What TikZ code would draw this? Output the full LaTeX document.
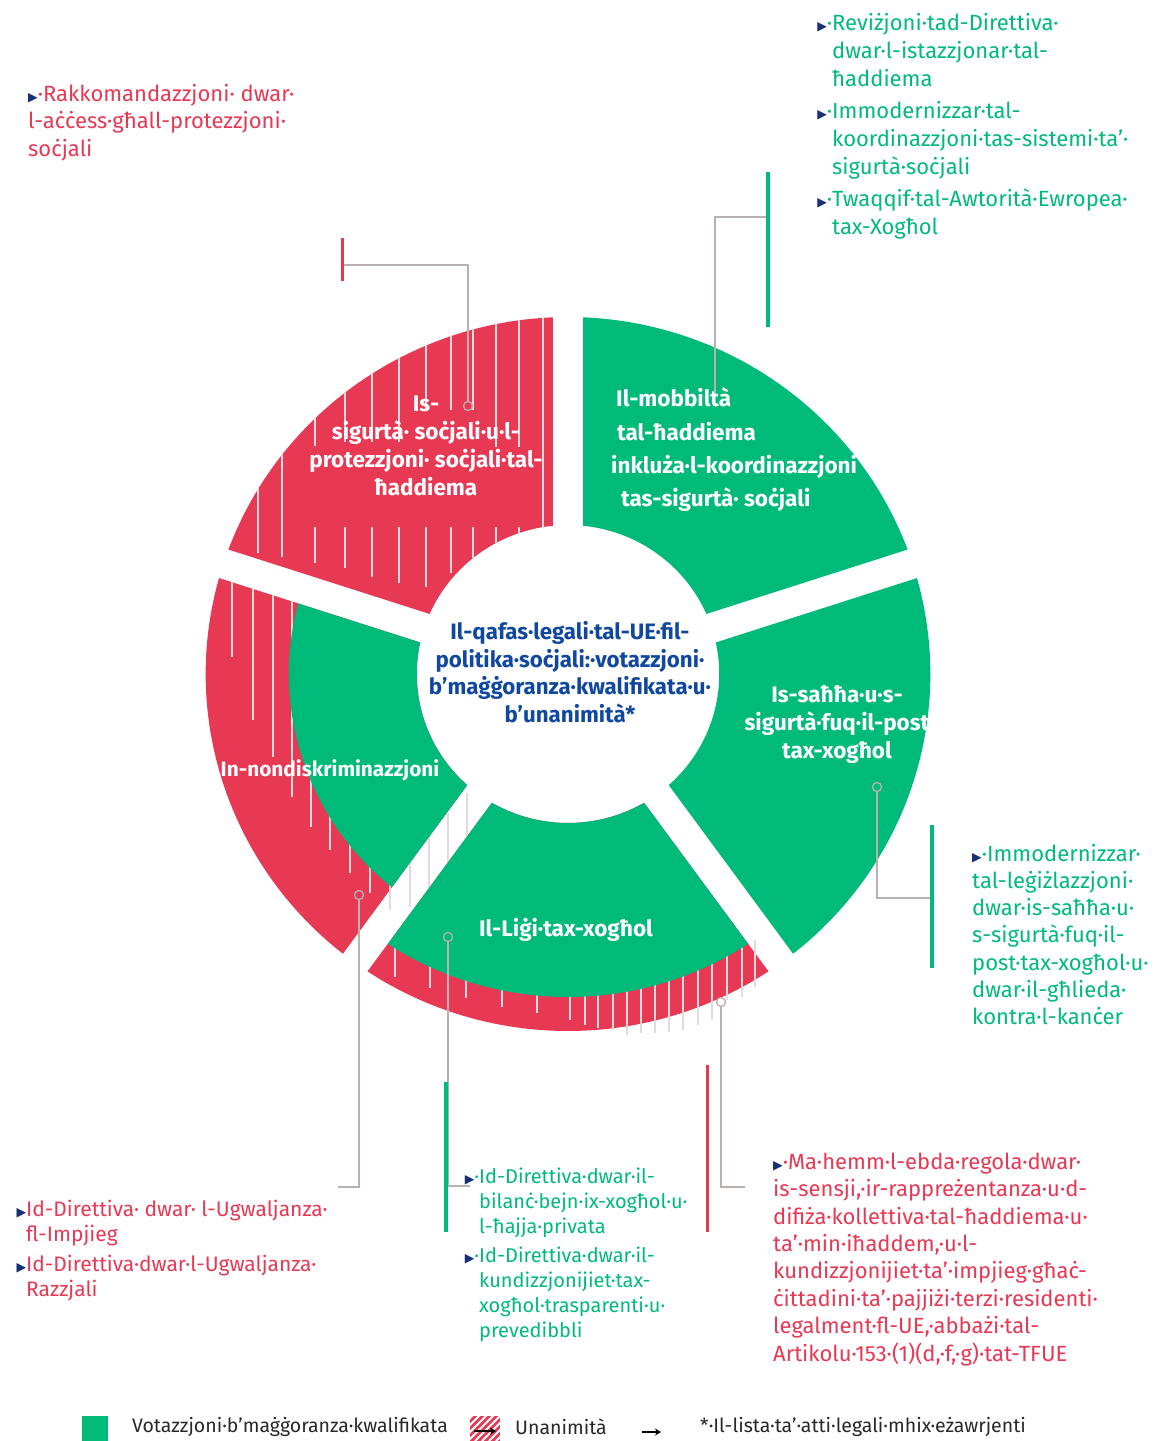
\documentclass[tikz,border=0pt]{standalone}
\usepackage{fontspec}
\setmainfont{Fira Sans}
\newfontfamily\dejavu{DejaVu Sans}
\usetikzlibrary{arrows.meta}
\definecolor{eugreen}{RGB}{0,186,122}
\definecolor{eured}{RGB}{231,56,84}
\definecolor{eublue}{RGB}{16,72,160}
\definecolor{bulblue}{RGB}{22,48,120}
\definecolor{connc}{RGB}{186,176,176}
\definecolor{hatchc}{RGB}{228,218,220}
\definecolor{legtext}{RGB}{40,40,40}
\newcommand\bul{{\dejavu\fontsize{12.5}{12.5}\selectfont\textcolor{bulblue}{▶}}}
\newcommand\fst{\rule{0pt}{19pt}}
\tikzset{
  sector/.style n args={4}{insert path={({#1+asin(15/#4)}:#4) arc[start angle={#1+asin(15/#4)}, end angle={#2-asin(15/#4)}, radius=#4] -- ({#2-asin(15/#3)}:#3) arc[start angle={#2-asin(15/#3)}, end angle={#1+asin(15/#3)}, radius=#3] -- cycle}},
  ringtf/.style={shift={(568,674)}, xscale=1.015, yscale=-1},
  hatch/.style={draw=hatchc, line width=1.6pt},
  conn/.style={draw=connc, line width=1.5pt},
  pinc/.style={circle, draw=connc, line width=1.3pt, minimum size=9pt, inner sep=0pt},
  gbar/.style={draw=eugreen, line width=3.5pt},
  rbar/.style={draw=eured, line width=3pt},
  gtext/.style={text=eugreen, align=left, inner sep=0pt, anchor=north west},
  rtext/.style={text=eured, align=left, inner sep=0pt, anchor=north west},
  seglab/.style={text=white, font=\bfseries\fontsize{22.5}{28}\selectfont, align=center, inner sep=0pt},
  legtxt/.style={text=legtext, font=\fontsize{19.5}{22}\selectfont, anchor=west, inner sep=0pt},
  legarrow/.style={draw=black, line width=1.6pt, -{Stealth[length=6pt,width=7pt]}}
}
\begin{document}
\begin{tikzpicture}[x=1pt,y=-1pt]
\useasboundingbox (0,0) rectangle (1154,1441);
\fill[white] (0,0) rectangle (1154,1441);

% ---- red sectors ----
\fill[eured, ringtf, sector={90}{162}{149}{357}];
\fill[eured, ringtf, sector={162}{234}{149}{357}];
\fill[eured, ringtf, sector={-126}{-54}{149}{357}];

% ---- hatch of the left and bottom red bands ----
\begin{scope}
\clip[ringtf, sector={162}{234}{149}{357}];
\foreach \x/\a/\b in {232/560/657, 253/560/720, 273/560/757, 292/560/797}
  \draw[hatch] (\x,\a) -- (\x,\b);
\end{scope}
\foreach \x/\a/\b in {311/700/827, 330/700/850, 350/700/873, 370/720/893, 390/740/910,
  410/857/907, 429/837/893, 448/813/880, 467/793/867}
  \draw[hatch] (\x,\a) -- (\x,\b);
\foreach \x/\a/\b in {395/944/977, 430/964/988, 466/977/998, 502/987/1007, 537/994/1013,
  570/997/1020, 585/995/1025, 598/994/1028, 613/992/1030, 627/990/1035, 641/987/1033,
  655/980/1033, 669/975/1032, 683/970/1030, 698/965/1025, 712/960/1020, 727/950/1000,
  742/944/997, 755/940/987}
  \draw[hatch] (\x,\a) -- (\x,\b);

% ---- green sectors ----
\fill[eugreen, ringtf, sector={18}{90}{149}{357}];
\fill[eugreen, ringtf, sector={-54}{18}{149}{357}];
\fill[eugreen, ringtf, sector={162}{234}{149}{275}];
\fill[eugreen, ringtf, sector={-126}{-54}{149}{323}];

% ---- hatch of the top-left sector ----
\begin{scope}
\clip[ringtf, sector={90}{162}{149}{357}];
\foreach \x/\a/\b in {258/480/553, 282/440/557, 315/400/446, 315/527/563, 345/380/442, 345/527/568,
  372/360/442, 372/527/577, 399/340/442, 399/527/583, 426/330/410, 426/527/587,
  451/320/410, 451/527/573, 473/310/410, 473/527/558, 496/300/447, 496/527/543,
  519/300/447, 519/527/533, 543/300/530}
  \draw[hatch] (\x,\a) -- (\x,\b);
\end{scope}

% ---- segment labels ----
\node[seglab] (s1) at (426,446) {Is-\\sigurtà· soċjali·u·l-\\protezzjoni· soċjali·tal-\\ħaddiema};
\node[seglab, align=left, anchor=west, font=\bfseries\fontsize{22.5}{33.3}\selectfont] (s2) at (611,450)
  {\hspace{5pt}Il-mobbiltà\\\hspace{6pt}tal-ħaddiema\\inkluża·l-koordinazzjoni\\\hspace{10pt}tas-sigurtà· soċjali};
\node[seglab] (s3) at (837,724) {Is-saħħa·u·s-\\sigurtà·fuq·il-post\\tax-xogħol};
\node[seglab, font=\bfseries\fontsize{20.8}{28}\selectfont] (s4) at (330,770) {In-nondiskriminazzjoni};
\node[seglab] (s5) at (566,930) {Il-Liġi·tax-xogħol};
\node[text=eublue, font=\bfseries\fontsize{22.3}{27.7}\selectfont, align=center, inner sep=0pt] (ctr) at (570,672)
  {Il-qafas·legali·tal-UE·fil-\\politika·soċjali:·votazzjoni·\\b’maġġoranza·kwalifikata·u·\\b’unanimità*};

% ---- connectors ----
\node[pinc] (p1) at (468,406) {};
\coordinate (b1) at (342,265);
\coordinate (rb1t) at (342,238); \coordinate (rb1b) at (342,281);
\draw[conn] (p1) |- (b1);
\draw[rbar] (rb1t) -- (rb1b);

\coordinate (e2) at (715,393);
\coordinate (b2) at (768,217);
\coordinate (gb2t) at (768,172); \coordinate (gb2b) at (768,327);
\draw[conn] (e2) |- (b2);
\draw[gbar] (gb2t) -- (gb2b);

\node[pinc] (p3) at (877,787) {};
\coordinate (b3) at (932,898);
\coordinate (gb3t) at (932,825); \coordinate (gb3b) at (932,968);
\draw[conn] (p3) |- (b3);
\draw[gbar] (gb3t) -- (gb3b);

\node[pinc] (p4) at (721,1002) {};
\coordinate (b4) at (745,1187);
\coordinate (rb4t) at (707,1065); \coordinate (rb4b) at (707,1232);
\draw[conn] (p4) |- (b4);
\draw[rbar] (rb4t) -- (rb4b);

\node[pinc] (p5) at (448,937) {};
\coordinate (b5) at (470,1186);
\coordinate (gb5t) at (446,1082); \coordinate (gb5b) at (446,1232);
\draw[conn] (p5) |- (b5);
\draw[gbar] (gb5t) -- (gb5b);

\node[pinc] (p6) at (359,895) {};
\coordinate (b6) at (338,1187);
\draw[conn] (p6) |- (b6);

% ---- text blocks ----
\node[rtext, font=\fontsize{22}{27.5}\selectfont] (t1) at (28,82)
  {\fst\bul·Rakkomandazzjoni· dwar·\\l-aċċess·għall-protezzjoni·\\soċjali};
\node[gtext, font=\fontsize{22}{28}\selectfont] (t2) at (832,11)
  {\fst\llap{\bul·}Reviżjoni·tad-Direttiva·\\dwar·l-istazzjonar·tal-\\ħaddiema\\[4pt]\llap{\bul·}Immodernizzar·tal-\\koordinazzjoni·tas-sistemi·ta’·\\sigurtà·soċjali\\[4pt]\llap{\bul·}Twaqqif·tal-Awtorità·Ewropea·\\tax-Xogħol};
\node[gtext, font=\fontsize{22}{27.2}\selectfont] (t3) at (972,842)
  {\fst\bul·Immodernizzar·\\tal-leġiżlazzjoni·\\dwar·is-saħħa·u·\\s-sigurtà·fuq·il-\\post·tax-xogħol·u·\\dwar·il-għlieda·\\kontra·l-kanċer};
\node[rtext, font=\fontsize{22}{27.4}\selectfont] (t4) at (773,1150)
  {\fst\bul·Ma·hemm·l-ebda·regola·dwar·\\is-sensji,·ir-rappreżentanza·u·d-\\difiża·kollettiva·tal-ħaddiema·u·\\ta’·min·iħaddem,·u·l-\\kundizzjonijiet·ta’·impjieg·għaċ-\\ċittadini·ta’·pajjiżi·terzi·residenti·\\legalment·fl-UE,·abbażi·tal-\\Artikolu·153·(1)(d,·f,·g)·tat-TFUE};
\node[gtext, font=\fontsize{20}{25}\selectfont] (t5) at (479,1164)
  {\fst\llap{\bul·}Id-Direttiva·dwar·il-\\bilanċ·bejn·ix-xogħol·u·\\l-ħajja·privata\\[4pt]\llap{\bul·}Id-Direttiva·dwar·il-\\kundizzjonijiet·tax-\\xogħol·trasparenti·u·\\prevedibbli};
\node[rtext, font=\fontsize{21}{25.5}\selectfont] (t6) at (26,1197)
  {\fst\llap{\bul}Id-Direttiva·  dwar·  l-Ugwaljanza·\\fl-Impjieg\\[4pt]\llap{\bul}Id-Direttiva·dwar·l-Ugwaljanza·\\Razzjali};

% ---- legend ----
\node[fill=eugreen, minimum width=26pt, minimum height=27pt, inner sep=0pt, anchor=north west] (lg1) at (82,1416) {};
\node[legtxt] (lt1) at (132,1427) {Votazzjoni·b’maġġoranza·kwalifikata};
\begin{scope}
\clip (470,1416) rectangle (500,1441);
\fill[eured] (470,1416) rectangle (500,1441);
\foreach \k in {0,7,...,63}
  \draw[white, line width=2pt] (440+\k,1441) -- (470+\k,1411);
\end{scope}
\coordinate (la1) at (474,1431); \coordinate (la2) at (496,1431);
\draw[legarrow] (la1) -- (la2);
\node[legtxt] (lt2) at (515,1427) {Unanimità};
\coordinate (la3) at (642,1432); \coordinate (la4) at (661,1432);
\draw[legarrow] (la3) -- (la4);
\node[legtxt] (lt3) at (700,1427) {*·Il-lista·ta’·atti·legali·mhix·eżawrjenti};
\end{tikzpicture}
\end{document}
